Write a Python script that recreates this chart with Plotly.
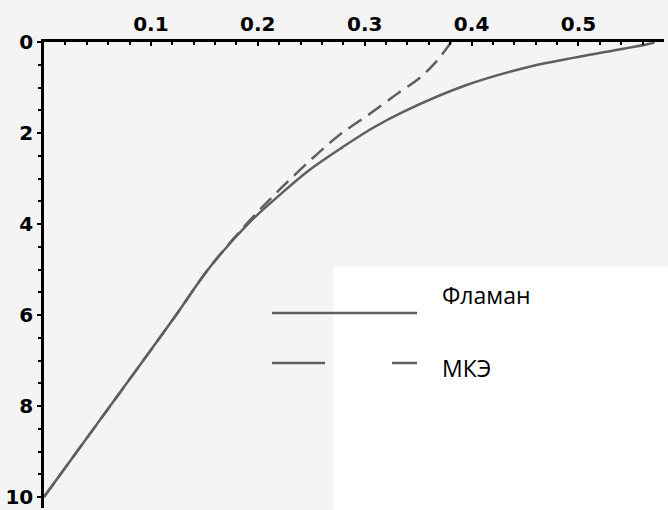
import plotly.graph_objects as go

# Фламан (solid)
flaman_x = [0.0, 0.0523, 0.0925, 0.1224, 0.1551, 0.1925, 0.2206, 0.2486, 0.2794, 0.3075, 0.3355, 0.3953, 0.457, 0.5196, 0.5692, 0.571]
flaman_y = [10.0, 8.31, 7.01, 6.04, 4.95, 3.96, 3.36, 2.81, 2.31, 1.89, 1.54, 0.945, 0.527, 0.242, 0.022, 0.0]

# МКЭ (dashed)
mke_x = [0.0, 0.0523, 0.0925, 0.1224, 0.1551, 0.1925, 0.2206, 0.2514, 0.2766, 0.3047, 0.3327, 0.3514, 0.3673, 0.381]
mke_y = [10.0, 8.31, 7.01, 6.04, 4.95, 3.92, 3.24, 2.55, 2.04, 1.58, 1.10, 0.79, 0.42, 0.0]

x_ticks = [0.1, 0.2, 0.3, 0.4, 0.5]
y_ticks = [0, 2, 4, 6, 8, 10]
legend_labels = ["Фламан", "МКЭ"]

W, H = 668, 510
ML, MR, MT, MB = 44, 4, 42, 2
pw, ph = W - ML - MR, H - MT - MB

def px(xp):
    return (xp - ML) / pw

def py(yp):
    return (H - MB - yp) / ph

line_col = "#5f5f5f"

fig = go.Figure()
fig.add_trace(go.Scatter(x=flaman_x, y=flaman_y, mode="lines", name=legend_labels[0],
                         line=dict(color=line_col, width=2.5, shape="spline", smoothing=1.0)))
fig.add_trace(go.Scatter(x=mke_x, y=mke_y, mode="lines", name=legend_labels[1],
                         line=dict(color=line_col, width=2.5, shape="spline", smoothing=1.0, dash="16px,8px")))

tickfont = dict(family="DejaVu Sans", size=20, color="black", weight="bold")

fig.update_xaxes(side="top", range=[0, 0.58], tickvals=x_ticks, ticktext=[str(v) for v in x_ticks],
                 showline=True, linecolor="black", linewidth=2.5, ticks="inside", ticklen=4,
                 tickwidth=2, tickcolor="black", showgrid=False, zeroline=False, tickfont=tickfont,
                 automargin=False,
                 minor=dict(dtick=0.02, ticks="inside", ticklen=3, tickwidth=2, tickcolor="black"))
fig.update_yaxes(range=[10 + (H - MB - 497) / 45.5, 0], tickvals=y_ticks,
                 showline=True, linecolor="black", linewidth=2.5, ticks="outside", ticklen=4,
                 tickwidth=2, tickcolor="black", showgrid=False, zeroline=False, tickfont=tickfont,
                 automargin=False,
                 minor=dict(dtick=0.5, ticks="outside", ticklen=3, tickwidth=2, tickcolor="black"))

shapes = [
    # white legend area
    dict(type="rect", xref="paper", yref="paper", x0=px(333), x1=px(668), y0=py(510), y1=py(267),
         fillcolor="white", line=dict(width=0), layer="below"),
    # legend lines
    dict(type="line", xref="paper", yref="paper", x0=px(272), x1=px(417), y0=py(313), y1=py(313),
         line=dict(color=line_col, width=2.5)),
    dict(type="line", xref="paper", yref="paper", x0=px(272), x1=px(325), y0=py(363), y1=py(363),
         line=dict(color=line_col, width=2.5)),
    dict(type="line", xref="paper", yref="paper", x0=px(392), x1=px(417), y0=py(363), y1=py(363),
         line=dict(color=line_col, width=2.5)),
]

lfont = dict(family="Open Sans", size=23, color="black")
annotations = [
    dict(xref="paper", yref="paper", x=px(440), y=py(295), text=legend_labels[0], showarrow=False,
         xanchor="left", yanchor="middle", font=lfont),
    dict(xref="paper", yref="paper", x=px(440), y=py(368), text=legend_labels[1], showarrow=False,
         xanchor="left", yanchor="middle", font=lfont),
]

fig.update_layout(width=W, height=H, margin=dict(l=ML, r=MR, t=MT, b=MB, pad=0),
                  paper_bgcolor="#f4f4f4", plot_bgcolor="#f4f4f4", showlegend=False,
                  shapes=shapes, annotations=annotations)

fig.write_html("out.html", config={"displayModeBar": False},
               post_script="document.body.style.margin='0';document.body.style.overflow='hidden';")
